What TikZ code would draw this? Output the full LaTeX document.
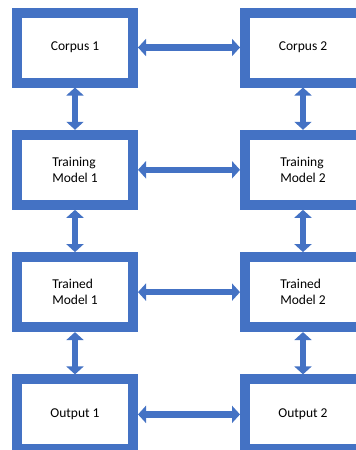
\documentclass[tikz,border=0pt]{standalone}
\usepackage{fontspec}
\setmainfont{Carlito}
\usepackage{tikz}
\usetikzlibrary{positioning,arrows.meta}
\definecolor{boxblue}{HTML}{4472C4}

\begin{document}
\begin{tikzpicture}[
		node distance={122.3pt},
		main/.style = {draw=boxblue, line width=10pt, fill=white, minimum width=116pt, minimum height=70pt, inner sep=0pt, align=left, font=\fontsize{13.5}{16.5}\selectfont},
		link/.style = {draw=boxblue, line width=6.5pt, {Triangle[width=17pt, length=8pt]}-{Triangle[width=17pt, length=8pt]}}
	]
	\clip (-75pt,47.5pt) rectangle (281pt,-402.5pt);
	\fill[white] (-75pt,47.5pt) rectangle (281pt,-402.5pt);
	\node[main] (c1) {Corpus 1};
	\node[main] (c2) [right of=c1, node distance=228pt] {Corpus 2};
	\node[main] (tg1) [below of=c1] {Training\\Model 1};
	\node[main] (tg2) [below of=c2] {Training\\Model 2};
	\node[main] (td1) [below of=tg1] {Trained\\Model 1};
	\node[main] (td2) [below of=tg2] {Trained\\Model 2};
	\node[main] (o1) [below of=td1] {Output 1};
	\node[main] (o2) [below of=td2] {Output 2};
	\draw[link] (c1) to (c2);
	\draw[link] (tg1) to (tg2);
	\draw[link] (td1) to (td2);
	\draw[link] (o1) to (o2);
	\draw[link] (c1) to (tg1);
	\draw[link] (tg1) to (td1);
	\draw[link] (td1) to (o1);
	\draw[link] (c2) to (tg2);
	\draw[link] (tg2) to (td2);
	\draw[link] (td2) to (o2);
\end{tikzpicture}
\end{document}
